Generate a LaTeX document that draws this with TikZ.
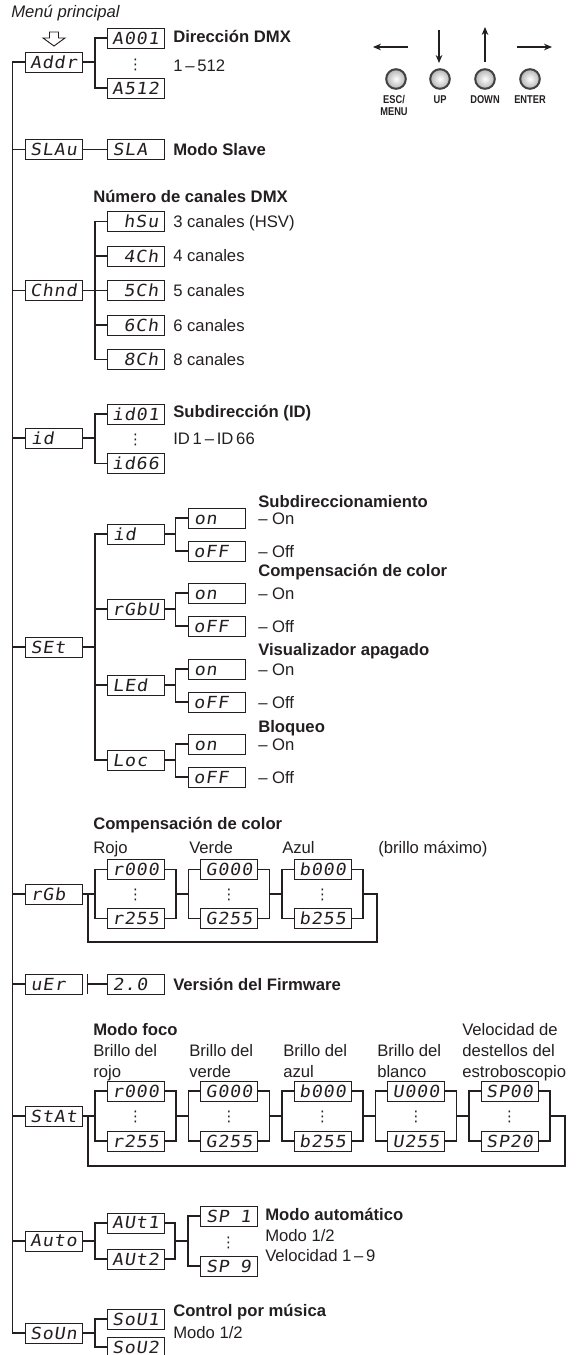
\documentclass[tikz,border=0pt]{standalone}
\usepackage{fontspec}
\setmainfont{Liberation Sans}
\newfontfamily\segfont[FakeStretch=1.1,LetterSpace=5,FakeSlant=0.15]{DejaVu Sans Mono}
\newfontfamily\symfont{DejaVu Sans}
\newfontfamily\btnfont[FakeStretch=0.82]{Liberation Sans}
\usetikzlibrary{arrows.meta}
\newcommand{\segblank}{\phantom{0}}
\definecolor{ink}{HTML}{231F20}
\begin{document}
\begin{tikzpicture}[x=0.75pt,y=-0.75pt,
  seg/.style={draw=ink, line width=0.6pt, minimum width=42.75pt, minimum height=15pt, inner sep=0pt, text=ink, font=\segfont\fontsize{12.5}{13}\selectfont},
  lab/.style={anchor=base west, inner sep=0pt, text=ink, font=\fontsize{12.5}{15}\selectfont},
  hd/.style={anchor=base west, inner sep=0pt, text=ink, font=\fontsize{12.5}{15}\selectfont\bfseries},
  conn/.style={draw=ink, line width=0.9pt},
  vd/.style={inner sep=0pt, text=ink, font=\symfont\fontsize{11}{11}\selectfont},
  btn/.style={inner sep=0pt, text=ink, font=\btnfont\fontsize{8.5}{9}\selectfont\bfseries},
  arr/.style={draw=ink, line width=0.8pt, -{Stealth[length=6pt,width=5pt]}}]
\useasboundingbox (0,0) rectangle (578,1355);
\clip (0,0) rectangle (578,1355);

% ---------- header ----------
\node[lab, font=\fontsize{12.5}{15}\selectfont\itshape] (tMenu) at (11,18) {Menú principal};
\draw[ink, line width=0.7pt, fill=white] (49.5,32) -- (58.5,32) -- (58.5,38) -- (65,38) -- (54,46) -- (43,38) -- (49.5,38) -- cycle;

% buttons
\draw[arr] (408,47) -- (373,47);
\draw[arr] (439,30) -- (439,63);
\draw[arr] (485,62) -- (485,27);
\draw[arr] (517,47) -- (552,47);
\foreach \x in {396,440,485,530}
  \shadedraw[draw=ink!85, line width=1.5pt, inner color=white, outer color=black!30] (\x,79) circle[radius=9.8];
\node[btn] (lEsc) at (394,100) {ESC/};
\node[btn] (lMenu) at (394,112) {MENU};
\node[btn] (lUp) at (440,100) {UP};
\node[btn] (lDown) at (485,100) {DOWN};
\node[btn] (lEnter) at (530,100) {ENTER};

% ---------- main column ----------
\node[seg] (addr) at (53.5,62) {Addr};
\node[seg] (slau) at (53.5,149.5) {SLAu};
\node[seg] (chnd) at (53.5,290.5) {Chnd};
\node[seg] (idm) at (53.5,438) {id\segblank\segblank};
\node[seg] (set) at (53.5,647) {SEt\segblank};
\node[seg] (rgbm) at (53.5,894) {rGb\segblank};
\node[seg] (ver) at (53.5,984) {uEr\segblank};
\node[seg] (stat) at (53.5,1116) {StAt};
\node[seg] (auto) at (53.5,1241) {Auto};
\node[seg] (soun) at (53.5,1333) {SoUn};

\draw[conn] (addr.west) -- ++(-12,0) |- (soun.west);
\foreach \n in {slau,chnd,idm,set,rgbm,ver,stat,auto}
  \draw[conn] (\n.west) -- ++(-12,0);

% ---------- Addr ----------
\node[seg] (a001) at (135.5,38) {A001};
\node[seg] (a512) at (135.5,88) {A512};
\node[vd] (dA) at (135.5,65) {⋮};
\coordinate (jA) at (95,62);
\draw[conn] (addr.east) -- (jA);
\draw[conn] (a001.west) -| (jA) |- (a512.west);
\node[hd] (tAddr) at (173,43) {Dirección DMX};
\node[lab] (tAddr2) at (173,72) {1\,–\,512};

% ---------- SLAu ----------
\node[seg] (sla) at (135.5,149.5) {SLA\segblank};
\draw[conn] (slau.east) -- (sla.west);
\node[hd] (tSla) at (173,155.5) {Modo Slave};

% ---------- Chnd ----------
\node[hd] (tCh) at (93,203) {Número de canales DMX};
\coordinate (jC) at (95,290.5);
\draw[conn] (chnd.east) -- (jC);
\foreach \n/\y/\t/\l in {hsu/221.5/hSu/3 canales (HSV), cA/256/4Ch/4 canales, cB/290.5/5Ch/5 canales, cC/325/6Ch/6 canales, cD/359.5/8Ch/8 canales} {
  \node[seg] (\n) at (135.5,\y) {\segblank\t};
  \draw[conn] (\n.west) -| (jC);
  \node[lab] (t\n) at (173,\y+6) {\l};
}

% ---------- id ----------
\node[seg] (id01) at (135.5,414) {id01};
\node[seg] (id66) at (135.5,463.5) {id66};
\node[vd] (dI) at (135.5,440) {⋮};
\coordinate (jI) at (95,438);
\draw[conn] (idm.east) -- (jI);
\draw[conn] (id01.west) -| (jI) |- (id66.west);
\node[hd] (tId) at (173,417) {Subdirección (ID)};
\node[lab] (tId2) at (173,444) {ID\,1\,–\,ID\,66};

% ---------- SEt ----------
\coordinate (jS) at (95,647);
\draw[conn] (set.east) -- (jS);
\foreach \n/\y/\t in {sid/534/id\segblank\segblank, srgbu/609/rGbU, sled/685/LEd\segblank, sloc/760/Loc\segblank} {
  \node[seg] (\n) at (135.5,\y) {\t};
  \draw[conn] (\n.west) -| (jS);
  \draw[conn] (\n.east) -- ++(11,0) coordinate (j\n);
  \node[seg] (on\n) at (216.5,\y-16) {on\segblank\segblank};
  \node[seg] (off\n) at (216.5,\y+17) {oFF\segblank};
  \draw[conn] (on\n.west) -| (j\n) |- (off\n.west);
  \node[lab] (ton\n) at (258,\y-10) {– On};
  \node[lab] (toff\n) at (258,\y+23) {– Off};
}
\node[hd] (hS1) at (258,507) {Subdireccionamiento};
\node[hd] (hS2) at (258,576) {Compensación de color};
\node[hd] (hS3) at (258,655) {Visualizador apagado};
\node[hd] (hS4) at (258,732) {Bloqueo};

% ---------- rGb ----------
\node[hd] (tRgb) at (93,829) {Compensación de color};
\node[lab] (tRojo) at (93,853) {Rojo};
\node[lab] (tVerde) at (189,853) {Verde};
\node[lab] (tAzul) at (282,853) {Azul};
\node[lab] (tMax) at (378,853) {(brillo máximo)};
\foreach \i/\cx/\tp/\bt in {1/135.5/r000/r255, 2/229/G000/G255, 3/322.5/b000/b255} {
  \node[seg] (rgT\i) at (\cx,869.5) {\tp};
  \node[seg] (rgB\i) at (\cx,918.5) {\bt};
  \node[vd] (rgD\i) at (\cx,895) {⋮};
  \coordinate (rgL\i) at (\cx-40.5,894);
  \coordinate (rgR\i) at (\cx+40.5,894);
  \draw[conn] (rgT\i.west) -| (rgL\i) |- (rgB\i.west);
  \draw[conn] (rgT\i.east) -| (rgR\i) |- (rgB\i.east);
}
\coordinate (rgLoopL) at (88,894);
\draw[conn] (rgbm.east) -- (rgL1);
\draw[conn] (rgR1) -- (rgL2);
\draw[conn] (rgR2) -- (rgL3);
\draw[conn] (rgR3) -- ++(14,0) -- ++(0,48) -| (rgLoopL);

% ---------- vEr ----------
\node[seg] (ver2) at (135.5,984) {2.0\segblank};
\draw[conn] (ver2.west) -- ++(-19,0) coordinate (vt) ++(0,-10) -- ++(0,20);
\node[hd] (tVer) at (173,990) {Versión del Firmware};

% ---------- StAt ----------
\node[hd] (tFoco) at (93,1035) {Modo foco};
\node[lab] (tB1) at (93,1056) {Brillo del};
\node[lab] (tB1b) at (93,1077) {rojo};
\node[lab] (tB2) at (189,1056) {Brillo del};
\node[lab] (tB2b) at (189,1077) {verde};
\node[lab] (tB3) at (283,1056) {Brillo del};
\node[lab] (tB3b) at (283,1077) {azul};
\node[lab] (tB4) at (377,1056) {Brillo del};
\node[lab] (tB4b) at (377,1077) {blanco};
\node[lab] (tB5) at (462,1035) {Velocidad de};
\node[lab] (tB5b) at (462,1056) {destellos del};
\node[lab] (tB5c) at (462,1077) {estroboscopio};
\foreach \i/\cx/\tp/\bt in {1/135.5/r000/r255, 2/229/G000/G255, 3/322.5/b000/b255, 4/416/U000/U255, 5/509.5/SP00/SP20} {
  \node[seg] (stT\i) at (\cx,1091) {\tp};
  \node[seg] (stB\i) at (\cx,1141) {\bt};
  \node[vd] (stD\i) at (\cx,1117) {⋮};
  \coordinate (stL\i) at (\cx-40.5,1116);
  \coordinate (stR\i) at (\cx+40.5,1116);
  \draw[conn] (stT\i.west) -| (stL\i) |- (stB\i.west);
  \draw[conn] (stT\i.east) -| (stR\i) |- (stB\i.east);
}
\coordinate (stLoopL) at (88,1116);
\draw[conn] (stat.east) -- (stL1);
\draw[conn] (stR1) -- (stL2);
\draw[conn] (stR2) -- (stL3);
\draw[conn] (stR3) -- (stL4);
\draw[conn] (stR4) -- (stL5);
\draw[conn] (stR5) -- ++(15,0) -- ++(0,50) -| (stLoopL);

% ---------- Auto ----------
\node[seg] (aut1) at (135.5,1223) {AUt1};
\node[seg] (aut2) at (135.5,1259) {AUt2};
\node[seg] (sp1) at (228.5,1216) {SP\segblank 1};
\node[seg] (sp9) at (228.5,1266) {SP\segblank 9};
\node[vd] (dSp) at (228.5,1243) {⋮};
\coordinate (jAu) at (95,1241);
\coordinate (jAu2) at (175,1241);
\coordinate (jAu3) at (188,1241);
\draw[conn] (auto.east) -- (jAu);
\draw[conn] (aut1.west) -| (jAu) |- (aut2.west);
\draw[conn] (aut1.east) -| (jAu2) |- (aut2.east);
\draw[conn] (jAu2) -- (jAu3);
\draw[conn] (sp1.west) -| (jAu3) |- (sp9.west);
\node[hd] (tAuto) at (265,1220) {Modo automático};
\node[lab] (tAuto2) at (265,1241) {Modo 1/2};
\node[lab] (tAuto3) at (265,1261) {Velocidad 1\,–\,9};

% ---------- SoUn ----------
\node[seg] (sou1) at (135.5,1319) {SoU1};
\node[seg] (sou2) at (135.5,1347) {SoU2};
\coordinate (jSo) at (95,1333);
\draw[conn] (soun.east) -- (jSo);
\draw[conn] (sou1.west) -| (jSo) |- (sou2.west);
\node[hd] (tSo) at (173,1316) {Control por música};
\node[lab] (tSo2) at (173,1338) {Modo 1/2};
\end{tikzpicture}
\end{document}
